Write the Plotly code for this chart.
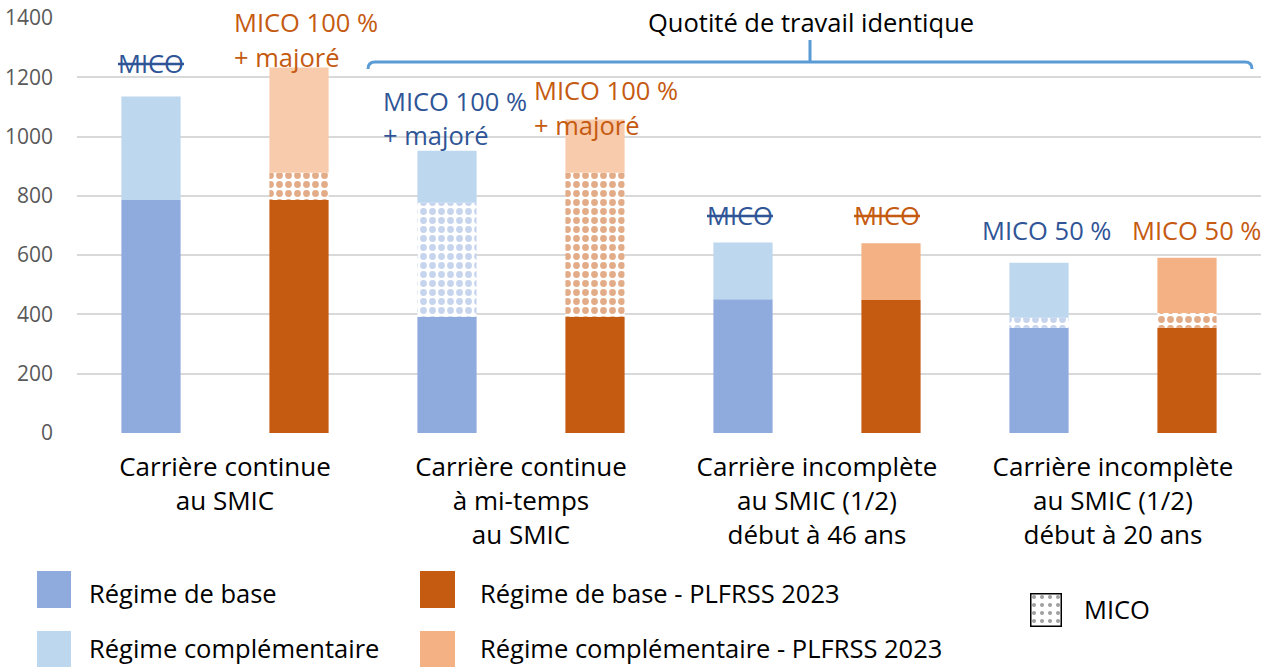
import plotly.graph_objects as go
import numpy as np

W, H = 1261, 667

categories = [
    "Carrière continue<br>au SMIC",
    "Carrière continue<br>à mi-temps<br>au SMIC",
    "Carrière incomplète<br>au SMIC (1/2)<br>début à 46 ans",
    "Carrière incomplète<br>au SMIC (1/2)<br>début à 20 ans",
]
base_actuel = [786, 392, 451, 355]
mico_actuel = [0, 385, 0, 34]
compl_actuel = [349, 175, 192, 185]
base_plfrss = [786, 392, 449, 355]
mico_plfrss = [92, 486, 0, 50]
compl_plfrss = [355, 180, 191, 186]
y_ticks = [0, 200, 400, 600, 800, 1000, 1200, 1400]

BLUE_BASE = "#8FAADC"
BLUE_COMP = "#BDD7EE"
OR_BASE = "#C55A11"
OR_COMP = ["#F8CBAD", "#F8CBAD", "#F4B183", "#F4B183"]
BLUE_TXT = "#2F5597"
OR_TXT = "#C55A11"
FONT = "Open Sans"

fig = go.Figure()


def add_stack(group, base, mico, compl, c_base, c_mico, c_comp, name):
    b = np.array(base)
    m = np.array(mico)
    fig.add_trace(go.Bar(x=categories, y=base, base=[0] * len(base), offsetgroup=group,
                         marker=dict(color=c_base, line=dict(width=0)), name=name + " base"))
    fig.add_trace(go.Bar(x=categories, y=mico, base=list(b), offsetgroup=group,
                         marker=dict(color="white", line=dict(width=0),
                                     pattern=dict(shape=".", fgcolor=c_mico, bgcolor="white",
                                                  size=9, solidity=0.45)),
                         name="MICO"))
    fig.add_trace(go.Bar(x=categories, y=compl, base=list(b + m), offsetgroup=group,
                         marker=dict(color=c_comp, line=dict(width=0)), name=name + " compl"))


add_stack("a", base_actuel, mico_actuel, compl_actuel, BLUE_BASE, BLUE_BASE, BLUE_COMP, "Régime")
add_stack("b", base_plfrss, mico_plfrss, compl_plfrss, OR_BASE, OR_BASE, OR_COMP, "PLFRSS")

x0, x1 = 77 / W, 1.0
y0, y1 = 1 - 433 / H, 1 - 18 / H

fig.update_layout(
    width=W, height=H,
    margin=dict(l=0, r=0, t=0, b=0),
    paper_bgcolor="white", plot_bgcolor="white",
    barmode="group", bargap=0, bargroupgap=0.6,
    showlegend=False,
    font=dict(family=FONT, color="black"),
    xaxis=dict(domain=[x0, x1], automargin=False, showgrid=False, showline=False,
               ticks="", tickfont=dict(size=26, color="black"), ticklabelstandoff=16),
    yaxis=dict(domain=[y0, y1], automargin=False, range=[0, 1400], tickvals=y_ticks,
               showgrid=True, gridcolor="#D9D9D9", gridwidth=1.5, zeroline=False,
               showline=False, ticks="", tickfont=dict(size=21, color="#595959"),
               ticklabelstandoff=23),
)


def px(x):
    return x / W


def py(y):
    return 1 - y / H


def ann(text, x, y, color, size=25.5, xanchor="center", yanchor="middle", align="center"):
    fig.add_annotation(text=text, x=px(x), y=py(y), xref="paper", yref="paper",
                       showarrow=False, font=dict(size=size, color=color, family=FONT),
                       xanchor=xanchor, yanchor=yanchor, align=align)


# bar annotations
ann("<s>MICO</s>", 151, 63, BLUE_TXT)
ann("MICO 100 %", 232, 22, OR_TXT, xanchor="left")
ann("+ majoré", 232, 57, OR_TXT, xanchor="left")
ann("MICO 100 %", 381, 101, BLUE_TXT, xanchor="left")
ann("+ majoré", 381, 135, BLUE_TXT, xanchor="left")
ann("MICO 100 %", 532, 90, OR_TXT, xanchor="left")
ann("+ majoré", 532, 125, OR_TXT, xanchor="left")
ann("<s>MICO</s>", 740, 215, BLUE_TXT)
ann("<s>MICO</s>", 887, 215, OR_TXT)
ann("MICO 50 %", 1046, 230, BLUE_TXT)
ann("MICO 50 %", 1196, 230, OR_TXT)

# brace
ann("Quotité de travail identique", 811, 22, "black", size=25.5)
brace = (f"M {px(368)},{py(69)} Q {px(368)},{py(62)} {px(375)},{py(62)} "
         f"L {px(1245)},{py(62)} Q {px(1252)},{py(62)} {px(1252)},{py(69)} "
         f"M {px(810)},{py(62)} L {px(810)},{py(40)}")
fig.add_shape(type="path", path=brace, xref="paper", yref="paper",
              line=dict(color="#5B9BD5", width=3))

# legend
leg = [
    (37, 71, 571, 608, BLUE_BASE, "Régime de base", 87, 593),
    (37, 71, 631, 668, BLUE_COMP, "Régime complémentaire", 87, 648),
    (420, 455, 571, 608, OR_BASE, "Régime de base - PLFRSS 2023", 478, 593),
    (420, 455, 631, 668, "#F4B183", "Régime complémentaire - PLFRSS 2023", 478, 648),
]
for lx0, lx1, ly0, ly1, col, txt, tx, ty in leg:
    fig.add_shape(type="rect", x0=px(lx0), x1=px(lx1), y0=py(ly1), y1=py(ly0),
                  xref="paper", yref="paper", fillcolor=col, line=dict(width=0))
    ann(txt, tx, ty, "black", size=25.5, xanchor="left")

# MICO legend symbol (patterned swatch on its own small axis)
fig.add_trace(go.Bar(x=[0], y=[1], xaxis="x2", yaxis="y2", width=[1],
                     marker=dict(color="white", line=dict(color="black", width=3),
                                 pattern=dict(shape=".", fgcolor="#404040", bgcolor="white",
                                              size=8, solidity=0.2)),
                     showlegend=False, hoverinfo="skip"))
fig.update_layout(
    xaxis2=dict(domain=[px(1030), px(1062)], range=[-0.5, 0.5], visible=False, anchor="y2"),
    yaxis2=dict(domain=[py(627), py(593)], range=[0, 1], visible=False, anchor="x2"),
)
ann("MICO", 1082, 609, "black", size=25.5, xanchor="left")

fig.write_html("out.html", config={"displayModeBar": False},
               post_script="document.body.style.margin='0';")
